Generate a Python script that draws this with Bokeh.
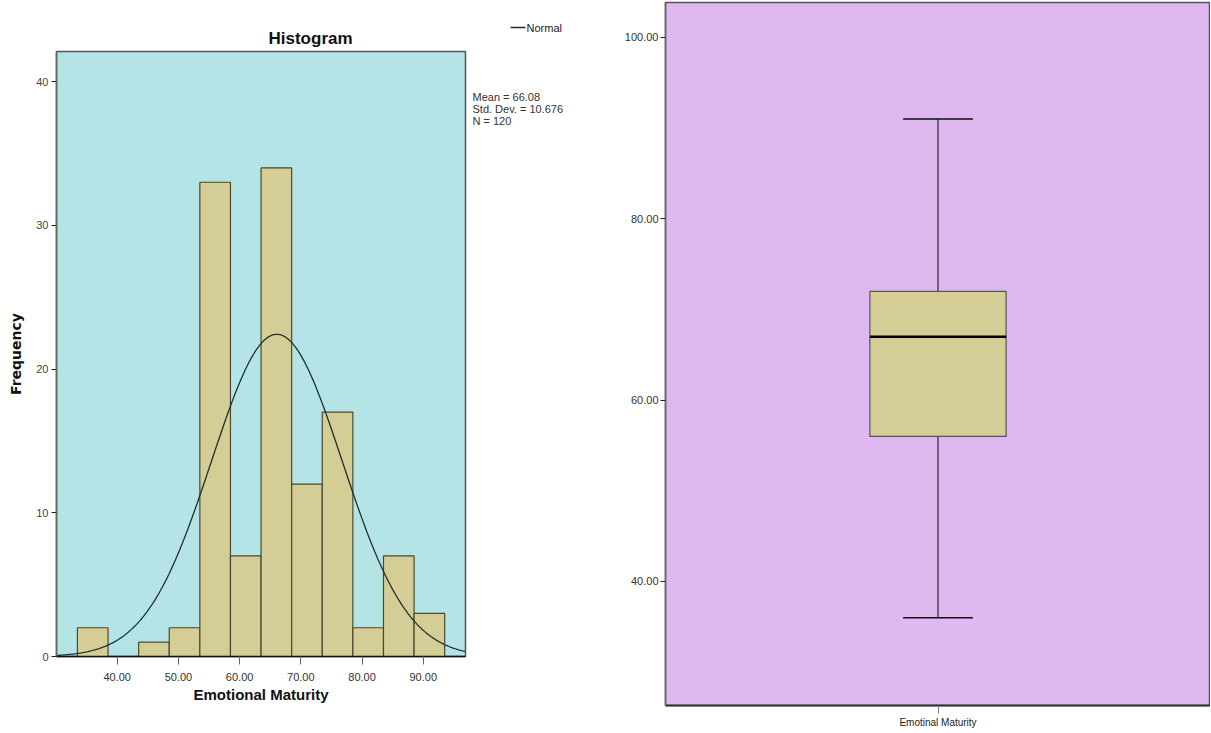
from bokeh.plotting import figure
from bokeh.models import Range1d, FactorRange, FixedTicker, NumeralTickFormatter
from bokeh.core.properties import value
from bokeh.embed import file_html
from bokeh.resources import INLINE
import numpy as np

# ---------------- data ----------------
bin_centers = [36, 41, 46, 51, 56, 61, 66, 71, 76, 81, 86, 91]
counts = [2, 0, 1, 2, 33, 7, 34, 12, 17, 2, 7, 3]
bin_width = 5
mean_val = 66.08
std_val = 10.676
n_val = 120
x_ticks = [40, 50, 60, 70, 80, 90]
y_ticks_hist = [0, 10, 20, 30, 40]
stat_texts = ["Mean = %.2f" % mean_val, "Std. Dev. = %.3f" % std_val, "N = %d" % n_val]
legend_text = ["Normal"]

box_category = "Emotinal Maturity"
whisker_low = 36
q1 = 56
median = 67
q3 = 72
whisker_high = 91
y_ticks_box = [40, 60, 80, 100]

SANS = "Liberation Sans"

# ---------------- histogram ----------------
p1 = figure(width=467, height=720, output_backend="svg", toolbar_location=None,
            x_range=Range1d(30.08, 96.9), y_range=Range1d(0, 42.1),
            min_border_left=56, min_border_right=2, min_border_top=51, min_border_bottom=64)
p1.background_fill_color = "#b4e4e6"
p1.border_fill_color = "white"
p1.grid.visible = False
p1.outline_line_color = "#555555"
p1.outline_line_width = 1.5

p1.title.text = "Histogram"
p1.title.align = "left"
p1.title.offset = 212
p1.title.standoff = 7
p1.title.text_font = SANS
p1.title.text_font_size = "17px"
p1.title.text_font_style = "bold"
p1.title.text_color = "#111111"

p1.vbar(x=bin_centers, top=counts, width=bin_width, fill_color="#d4cd96",
        line_color="#4a4830", line_width=1.2)

cx = np.linspace(30.08, 96.9, 300)
cy = n_val * bin_width * np.exp(-0.5 * ((cx - mean_val) / std_val) ** 2) / (std_val * np.sqrt(2 * np.pi))
p1.line(cx, cy, line_color="#1f2f2f", line_width=1.3)

p1.xaxis.ticker = FixedTicker(ticks=x_ticks)
p1.xaxis.formatter = NumeralTickFormatter(format="0.00")
p1.xaxis.major_tick_out = 8
p1.xaxis.major_tick_in = 0
p1.xaxis.minor_tick_line_color = None
p1.xaxis.major_tick_line_color = "#666666"
p1.xaxis.axis_line_color = "#111111"
p1.xaxis.axis_line_width = 1.5
p1.xaxis.major_label_text_font = SANS
p1.xaxis.major_label_text_font_size = "11px"
p1.xaxis.major_label_text_color = "#333333"
p1.xaxis.major_label_standoff = 8
p1.xaxis.axis_label = "Emotional Maturity"
p1.xaxis.axis_label_text_font = SANS
p1.xaxis.axis_label_text_font_style = "bold"
p1.xaxis.axis_label_text_font_size = "15px"
p1.xaxis.axis_label_text_color = "#111111"
p1.xaxis.axis_label_standoff = 2

p1.yaxis.ticker = FixedTicker(ticks=y_ticks_hist)
p1.yaxis.major_tick_out = 5
p1.yaxis.major_tick_in = 0
p1.yaxis.minor_tick_line_color = None
p1.yaxis.major_tick_line_color = "#222222"
p1.yaxis.axis_line_color = "#666666"
p1.yaxis.axis_line_width = 1.5
p1.yaxis.major_label_text_font = SANS
p1.yaxis.major_label_text_font_size = "11px"
p1.yaxis.major_label_text_color = "#444444"
p1.yaxis.major_label_standoff = 3
p1.yaxis.axis_label = "Frequency"
p1.yaxis.axis_label_text_font = "DejaVu Sans"
p1.yaxis.axis_label_text_font_style = "bold"
p1.yaxis.axis_label_text_font_size = "14px"
p1.yaxis.axis_label_text_color = "#111111"
p1.yaxis.axis_label_standoff = 9

# ---------------- side annotations (legend + statistics) ----------------
p3 = figure(width=133, height=140, output_backend="svg", toolbar_location=None,
            x_range=Range1d(0, 133), y_range=Range1d(140, 0), min_border=0)
p3.axis.visible = False
p3.grid.visible = False
p3.outline_line_color = None
p3.background_fill_color = "white"
p3.border_fill_color = "white"
p3.segment(x0=[43], y0=[27], x1=[58], y1=[27], line_color="#1f2f2f", line_width=1.3)
p3.text(x=[59], y=[27], text=legend_text, text_align="left", text_baseline="middle",
        text_font=value(SANS), text_font_size="11px", text_color="#222222")
p3.text(x=[5, 5, 5], y=[96, 108, 120], text=stat_texts, text_align="left", text_baseline="middle",
        text_font=value(SANS), text_font_size="11px", text_color="#333333")

# ---------------- boxplot ----------------
p2 = figure(width=610, height=732, output_backend="svg", toolbar_location=None,
            x_range=FactorRange(factors=[box_category], range_padding=0),
            y_range=Range1d(26.32, 103.86),
            min_border_left=65, min_border_right=0, min_border_top=2, min_border_bottom=27)
p2.background_fill_color = "#dfb8f2"
p2.border_fill_color = "white"
p2.grid.visible = False
p2.outline_line_color = "#555555"
p2.outline_line_width = 1.5

p2.segment(x0=[box_category, box_category], y0=[whisker_low, q3], x1=[box_category, box_category],
           y1=[q1, whisker_high], line_color="#6e6276", line_width=2)
p2.vbar(x=[box_category], bottom=[q1], top=[q3], width=0.25, fill_color="#d4cd96",
        line_color="#555555", line_width=1.2)
p2.vbar(x=[box_category, box_category], bottom=[whisker_low, whisker_high], top=[whisker_low, whisker_high],
        width=0.128, fill_alpha=0, line_color="#111111", line_width=1.5)
p2.vbar(x=[box_category], bottom=[median], top=[median], width=0.25, fill_alpha=0,
        line_color="#000000", line_width=2.5)

p2.yaxis.ticker = FixedTicker(ticks=y_ticks_box)
p2.yaxis.formatter = NumeralTickFormatter(format="0.00")
p2.yaxis.major_tick_out = 5
p2.yaxis.major_tick_in = 0
p2.yaxis.minor_tick_line_color = None
p2.yaxis.major_tick_line_color = "#222222"
p2.yaxis.axis_line_color = "#666666"
p2.yaxis.axis_line_width = 1.5
p2.yaxis.major_label_text_font = SANS
p2.yaxis.major_label_text_font_size = "11px"
p2.yaxis.major_label_text_color = "#333333"
p2.yaxis.major_label_standoff = 2

p2.xaxis.major_tick_out = 8
p2.xaxis.major_tick_in = 0
p2.xaxis.major_tick_line_color = "#777777"
p2.xaxis.axis_line_color = "#333333"
p2.xaxis.axis_line_width = 2
p2.xaxis.major_label_text_font = SANS
p2.xaxis.major_label_text_font_size = "10px"
p2.xaxis.major_label_text_color = "#222222"
p2.xaxis.major_label_standoff = 3

template = """
{% block postamble %}
<style>
  body { display: flex !important; flex-direction: row; align-items: flex-start; margin: 0; }
</style>
{% endblock %}
"""

open("out.html", "w").write(file_html([p1, p3, p2], INLINE, template=template))
